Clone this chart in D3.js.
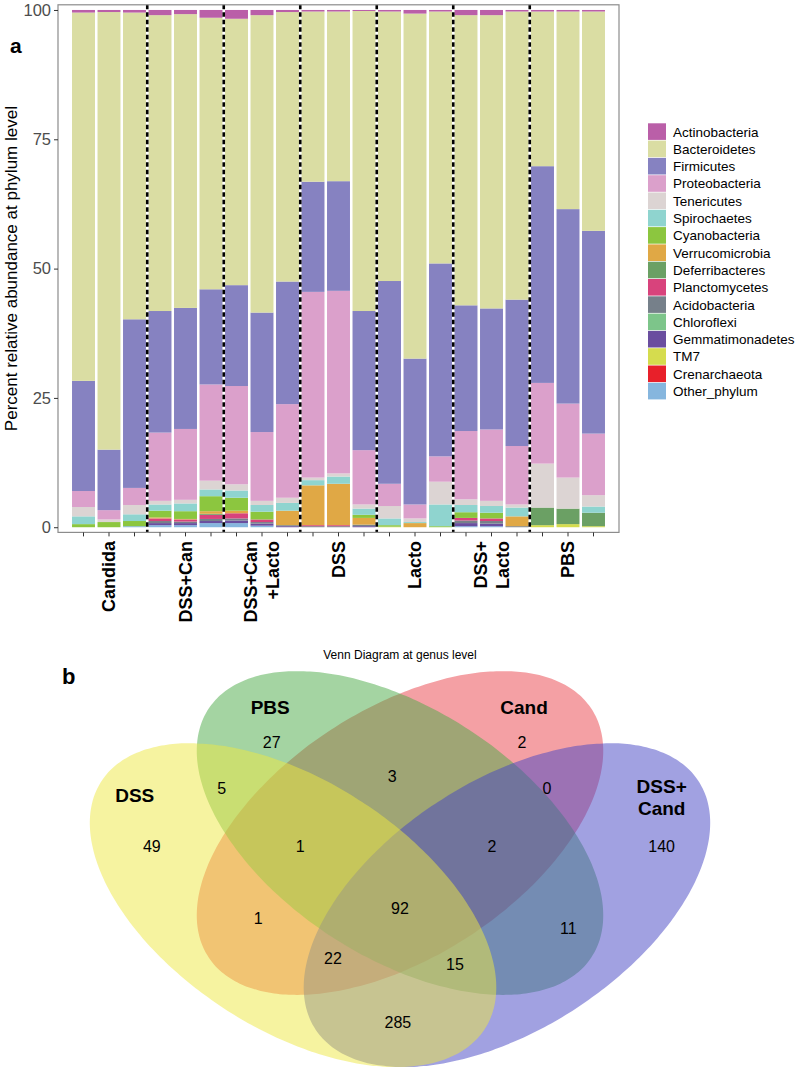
<!DOCTYPE html>
<meta charset="utf-8">
<style>
body { margin: 0; background: #fff; font-family: "Liberation Sans", Arial, Helvetica, sans-serif; }
</style>
<body>
<svg id="fig" width="800" height="1069"></svg>
<script src="https://d3js.org/d3.v7.min.js"></script>
<script>
// ---------- panel a data ----------
var groups = ["Candida", "DSS+Can", "DSS+Can\n+Lacto", "DSS", "Lacto", "DSS+\nLacto", "PBS"];
var samples = d3.range(21).map(function (i) { return "s" + (i + 1); });

var phyla = ["Actinobacteria", "Bacteroidetes", "Firmicutes", "Proteobacteria", "Tenericutes",
    "Spirochaetes", "Cyanobacteria", "Verrucomicrobia", "Deferribacteres", "Planctomycetes",
    "Acidobacteria", "Chloroflexi", "Gemmatimonadetes", "TM7", "Crenarchaeota", "Other_phylum"];
var phylaColors = ["#ba5fa8", "#dadda3", "#8682c1", "#dba0cb", "#dcd4d3", "#8fd4cf", "#8cc63f",
    "#e0a845", "#6ba064", "#d8437c", "#76808a", "#7dc58a", "#6a4e9f", "#d5dc4e", "#e8202a", "#86b6de"];

// percent per sample (3 samples per group)
var Actinobacteria   = [0.5, 0.4, 0.5, 1.0, 0.8, 1.5, 1.7, 1.0, 0.4, 0.3, 0.3, 0.2, 0.3, 0.7, 0.3, 1.0, 1.0, 0.3, 0.3, 0.3, 0.3];
var Bacteroidetes    = [71.2, 84.6, 59.3, 57.2, 56.8, 52.5, 51.5, 57.5, 52.1, 32.9, 32.8, 58.0, 52.1, 66.7, 48.7, 56.1, 56.7, 55.7, 29.9, 38.2, 42.4];
var Firmicutes       = [21.3, 11.7, 32.6, 23.5, 23.4, 18.4, 19.5, 23.1, 23.7, 21.3, 21.2, 26.9, 39.2, 28.2, 37.3, 24.3, 23.4, 28.3, 41.9, 37.6, 39.2];
var Proteobacteria   = [3.1, 1.8, 3.3, 13.2, 13.7, 18.6, 19.0, 13.3, 18.1, 35.9, 35.3, 10.5, 4.3, 2.7, 4.9, 13.2, 13.8, 11.3, 15.6, 14.3, 11.9];
var Tenericutes      = [1.8, 0.5, 1.8, 0.7, 0.7, 1.7, 1.2, 0.8, 1.0, 0.5, 0.6, 0.8, 2.4, 0.7, 4.4, 1.1, 1.0, 0.6, 8.5, 6.0, 2.2];
var Spirochaetes     = [1.5, 0, 1.3, 1.2, 1.5, 1.3, 1.4, 1.3, 1.5, 1.0, 1.4, 1.2, 1.3, 0.2, 4.2, 1.4, 1.3, 1.7, 0, 0, 1.2];
var Cyanobacteria    = [0.6, 1.0, 1.0, 1.3, 1.5, 2.9, 2.5, 1.5, 0, 0, 0, 0.6, 0.3, 0, 0.2, 1.1, 1.1, 0, 0, 0, 0];
var Verrucomicrobia  = [0, 0, 0, 0.2, 0.1, 0.5, 0.5, 0, 2.8, 7.7, 8.0, 1.3, 0, 0.8, 0, 0, 0, 1.9, 0, 0, 0];
var Deferribacteres  = [0, 0, 0, 0, 0, 0.2, 0, 0, 0, 0, 0, 0, 0, 0, 0, 0, 0, 0, 3.4, 3.0, 2.6];
var Planctomycetes   = [0, 0, 0, 0.5, 0.4, 0.8, 1.0, 0.5, 0, 0.2, 0.2, 0, 0, 0, 0, 0.5, 0.5, 0, 0, 0, 0];
var Acidobacteria    = [0, 0, 0, 0.4, 0.3, 0.4, 0.4, 0.3, 0.2, 0.2, 0.2, 0.3, 0, 0, 0, 0.5, 0.5, 0.2, 0, 0, 0];
var Chloroflexi      = [0, 0, 0, 0, 0, 0, 0, 0, 0, 0, 0, 0, 0, 0, 0, 0, 0, 0, 0, 0, 0];
var Gemmatimonadetes = [0, 0, 0, 0.4, 0.4, 0.4, 0.5, 0.4, 0.2, 0, 0, 0.2, 0, 0, 0, 0.6, 0.5, 0, 0, 0, 0];
var TM7              = [0, 0, 0, 0, 0, 0, 0, 0, 0, 0, 0, 0, 0.1, 0, 0, 0, 0, 0, 0.4, 0.6, 0.2];
var Crenarchaeota    = [0, 0, 0, 0, 0, 0, 0, 0, 0, 0, 0, 0, 0, 0, 0, 0, 0, 0, 0, 0, 0];
var Other_phylum     = [0, 0, 0.2, 0.4, 0.4, 0.8, 0.8, 0.3, 0, 0, 0, 0, 0, 0, 0, 0.2, 0.2, 0, 0, 0, 0];

var yTicks = [0, 25, 50, 75, 100];

// ---------- panel b data ----------
var vennSets = ["DSS", "PBS", "Cand", "DSS+\nCand"];
var vennColors = ["#ede741", "#49a945", "#e94149", "#4444c4"];
// region -> count
var vennRegions = ["DSS", "PBS", "Cand", "DSS+Cand", "DSS&PBS", "PBS&Cand", "Cand&DSS+Cand",
    "DSS&PBS&Cand", "PBS&Cand&DSS+Cand", "DSS&Cand", "all", "PBS&DSS+Cand",
    "DSS&Cand&DSS+Cand", "DSS&PBS&DSS+Cand", "DSS&DSS+Cand"];
var vennCounts = [49, 27, 2, 140, 5, 3, 0, 1, 2, 1, 92, 11, 22, 15, 285];

// ---------- build ----------
var svg = d3.select("#fig");
var seriesArrays = {
    Actinobacteria: Actinobacteria, Bacteroidetes: Bacteroidetes, Firmicutes: Firmicutes,
    Proteobacteria: Proteobacteria, Tenericutes: Tenericutes, Spirochaetes: Spirochaetes,
    Cyanobacteria: Cyanobacteria, Verrucomicrobia: Verrucomicrobia, Deferribacteres: Deferribacteres,
    Planctomycetes: Planctomycetes, Acidobacteria: Acidobacteria, Chloroflexi: Chloroflexi,
    Gemmatimonadetes: Gemmatimonadetes, TM7: TM7, Crenarchaeota: Crenarchaeota, Other_phylum: Other_phylum
};
var table = samples.map(function (s, i) {
    var row = {sample: s};
    phyla.forEach(function (p) { row[p] = seriesArrays[p][i]; });
    return row;
});

var panel = {left: 58, right: 619, top: 4.8, bottom: 532.4};
var x = d3.scaleBand().domain(samples).range([panel.left, panel.right])
    .paddingInner(0.1).paddingOuter(0.55);
var y = d3.scaleLinear().domain([-1, 101]).range([panel.bottom, panel.top]);
var color = d3.scaleOrdinal().domain(phyla).range(phylaColors);

// stack bottom-up: reverse legend order
var stacked = d3.stack().keys(phyla.slice().reverse())(table);

var gBars = svg.append("g");
gBars.selectAll("g").data(stacked).enter().append("g")
    .attr("fill", function (d) { return color(d.key); })
    .selectAll("rect").data(function (d) { return d; }).enter().append("rect")
    .attr("x", function (d) { return x(d.data.sample); })
    .attr("width", x.bandwidth())
    .attr("y", function (d) { return y(d[1]); })
    .attr("height", function (d) { return Math.max(0, y(d[0]) - y(d[1])); });

// dashed separators between groups
var step = x.step();
var seps = d3.range(1, groups.length).map(function (g) { return samples[g * 3]; });
svg.append("g").selectAll("line").data(seps).enter().append("line")
    .attr("x1", function (d) { return x(d) - (step - x.bandwidth()) / 2; })
    .attr("x2", function (d) { return x(d) - (step - x.bandwidth()) / 2; })
    .attr("y1", panel.top).attr("y2", panel.bottom)
    .attr("stroke", "#000").attr("stroke-width", 2.6).attr("stroke-dasharray", "4.5,3");

// panel border
svg.append("rect")
    .attr("x", panel.left).attr("y", panel.top)
    .attr("width", panel.right - panel.left).attr("height", panel.bottom - panel.top)
    .attr("fill", "none").attr("stroke", "#8c8c8c").attr("stroke-width", 1.2);

// y axis
var yAxis = svg.append("g").attr("transform", "translate(" + panel.left + ",0)")
    .call(d3.axisLeft(y).tickValues(yTicks).tickSize(4).tickPadding(3));
yAxis.select(".domain").remove();
yAxis.selectAll("line").attr("stroke", "#333");
yAxis.selectAll("text").attr("font-size", 16.5).attr("fill", "#4d4d4d")
    .attr("font-family", "Liberation Sans, Arial, sans-serif");

// x axis ticks
var xAxis = svg.append("g").attr("transform", "translate(0," + panel.bottom + ")")
    .call(d3.axisBottom(x).tickSize(4).tickFormat(""));
xAxis.select(".domain").remove();
xAxis.selectAll("line").attr("stroke", "#333");

// group labels
var gl = svg.append("g").selectAll("text").data(groups).enter().append("text")
    .attr("transform", function (d, i) {
        return "translate(" + (x(samples[i * 3 + 1]) + x.bandwidth() / 2) + ",541) rotate(-90)";
    })
    .attr("text-anchor", "end")
    .attr("font-weight", "bold").attr("font-size", 18).attr("fill", "#000");
gl.each(function (d) {
    var lines = d.split("\n");
    var t = d3.select(this);
    lines.forEach(function (l, k) {
        t.append("tspan").attr("x", 0)
            .attr("y", (k - (lines.length - 1) / 2) * 22)
            .attr("dy", "0.35em").text(l);
    });
});

// y title
svg.append("text")
    .attr("transform", "translate(17," + ((panel.top + panel.bottom) / 2) + ") rotate(-90)")
    .attr("text-anchor", "middle").attr("font-size", 17).attr("fill", "#000")
    .text("Percent relative abundance at phylum level");

svg.append("text").attr("x", 10).attr("y", 53).attr("font-weight", "bold")
    .attr("font-size", 21).text("a");

// legend
var legend = svg.append("g").attr("transform", "translate(648,123.3)");
var li = legend.selectAll("g").data(phyla).enter().append("g")
    .attr("transform", function (d, i) { return "translate(0," + i * 17.3 + ")"; });
li.append("rect").attr("width", 18).attr("height", 16.6)
    .attr("fill", function (d) { return color(d); });
li.append("text").attr("x", 25).attr("y", 8.5).attr("dy", "0.35em")
    .attr("font-size", 13.5).attr("fill", "#000").text(function (d) { return d; });

// ---------- panel b: Venn ----------
var xV = d3.scaleLinear().domain([0, 1]).range([43.5, 756.5]);
var yV = d3.scaleLinear().domain([0, 1]).range([1156.8, 588.8]);

// ellipse layout in unit space
var vennShapes = [
    {cx: 0.35, cy: 0.443, rot: -45},
    {cx: 0.50, cy: 0.57, rot: -45},
    {cx: 0.50, cy: 0.57, rot: 45},
    {cx: 0.65, cy: 0.443, rot: 45}
];
var semiA = 0.35, semiB = 0.2;
function ellipsePath(e) {
    var th = e.rot * Math.PI / 180;
    var pts = d3.range(0, 360, 2).map(function (deg) {
        var t = deg * Math.PI / 180;
        var ux = semiA * Math.cos(t), uy = semiB * Math.sin(t);
        return [xV(e.cx + ux * Math.cos(th) - uy * Math.sin(th)),
                yV(e.cy + ux * Math.sin(th) + uy * Math.cos(th))];
    });
    return d3.line().curve(d3.curveCardinalClosed)(pts);
}
var drawOrder = [2, 1, 3, 0];
svg.append("g").selectAll("path").data(drawOrder).enter().append("path")
    .attr("d", function (i) { return ellipsePath(vennShapes[i]); })
    .attr("fill", function (i) { return vennColors[i]; })
    .attr("fill-opacity", 0.5);

svg.append("text").attr("x", 400).attr("y", 659).attr("text-anchor", "middle")
    .attr("font-size", 12).text("Venn Diagram at genus level");
svg.append("text").attr("x", 62).attr("y", 684).attr("font-weight", "bold")
    .attr("font-size", 22).text("b");

var setLabelPos = [[0.128, 0.637], [0.318, 0.792], [0.674, 0.792], [0.867, 0.632]];
var regionPos = [[0.152, 0.547], [0.320, 0.730], [0.671, 0.730], [0.867, 0.547],
    [0.250, 0.649], [0.489, 0.670], [0.706, 0.649], [0.360, 0.547], [0.629, 0.547],
    [0.301, 0.420], [0.5, 0.438], [0.736, 0.402], [0.406, 0.350], [0.577, 0.339], [0.497, 0.237]];

var sl = svg.append("g").selectAll("text").data(vennSets).enter().append("text")
    .attr("text-anchor", "middle").attr("font-weight", "bold").attr("font-size", 19);
sl.each(function (d, i) {
    var lines = d.split("\n");
    var t = d3.select(this);
    lines.forEach(function (l, k) {
        t.append("tspan").attr("x", xV(setLabelPos[i][0]))
            .attr("y", yV(setLabelPos[i][1]) + (k - (lines.length - 1) / 2) * 22)
            .attr("dy", "0.35em").text(l);
    });
});

svg.append("g").selectAll("text").data(vennCounts).enter().append("text")
    .attr("x", function (d, i) { return xV(regionPos[i][0]); })
    .attr("y", function (d, i) { return yV(regionPos[i][1]); })
    .attr("dy", "0.35em").attr("text-anchor", "middle").attr("font-size", 16)
    .text(function (d) { return d; });
</script>
</body>
